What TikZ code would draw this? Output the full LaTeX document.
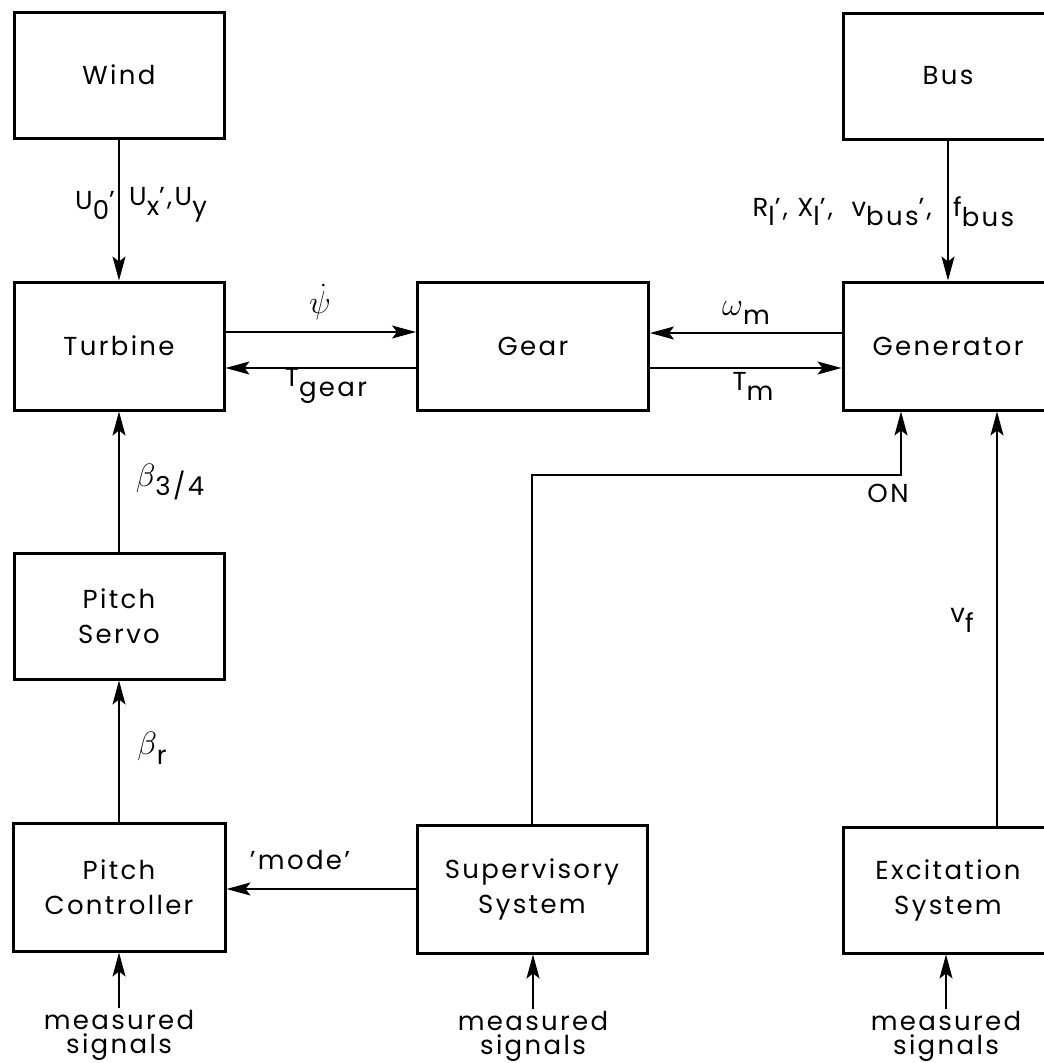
\documentclass[tikz,border=0pt]{standalone}
\usepackage{graphicx}
\usepackage{fontspec}
\setmainfont{Poppins}[LetterSpace=9]
\usetikzlibrary{arrows.meta}
\newcommand{\lowidx}[1]{\raisebox{-0.38em}{#1}}
\newcommand{\grk}[1]{\scalebox{1.3}{$#1$}}

\begin{document}
\begin{tikzpicture}[
  x=1pt, y=-1pt,
  every node/.style={font=\fontsize{26}{35}\selectfont, align=center},
  block/.style={draw, line width=3pt, minimum width=210pt, minimum height=126pt, inner sep=0pt},
  lbl/.style={inner sep=0pt},
  meas/.style={font=\fontsize{26}{24}\selectfont, inner sep=2pt},
  sig/.style={line width=1.5pt, -{Stealth[length=24pt, width=13pt, inset=5pt]}}
]
\useasboundingbox (0,0) rectangle (1044,1063);

% ── blocks ──────────────────────────────────────────────────────────
\node[block] (wind) at (119,75) {Wind};
\node[block] (bus) at (948,76) {Bus};
\node[block, minimum height=128pt] (turbine) at (119,346) {Turbine};
\node[block, minimum width=231pt, minimum height=128pt] (gear) at (533,346) {Gear};
\node[block, minimum height=128pt] (gen) at (948,346) {Generator};
\node[block] (servo) at (119,616) {Pitch\\Servo};
\node[block, minimum width=212pt, minimum height=128pt] (pctrl) at (119,887) {Pitch\\Controller};
\node[block, minimum width=230pt, minimum height=128pt] (super) at (532,889) {Supervisory\\System};
\node[block] (excite) at (948,890) {Excitation\\System};

% ── inputs from wind and bus ────────────────────────────────────────
\draw[sig] (wind.south) -- (turbine.north);
\node[lbl, anchor=east] (uo) at (115,205) {U\lowidx{0}'};
\node[lbl, anchor=west] (uxy) at (129,205) {U\lowidx{x}',U\lowidx{y}};
\draw[sig] (bus.south) -- (gen.north);
\node[lbl, anchor=east] (rxv) at (932,212) {R\lowidx{l}', X\lowidx{l}',\ \ v\lowidx{bus}',};
\node[lbl, anchor=west] (fbus) at (953,212) {f\lowidx{bus}};

% ── drive train ─────────────────────────────────────────────────────
\draw[sig] ([yshift=14pt]turbine.east) -- ([yshift=14pt]gear.west);
\draw[sig] ([yshift=-22pt]gear.west) -- ([yshift=-22pt]turbine.east);
\draw[sig] ([yshift=13pt]gen.west) -- ([yshift=13pt]gear.east);
\draw[sig] ([yshift=-22pt]gear.east) -- ([yshift=-22pt]gen.west);
\node[lbl] (psi) at (320,302) {\grk{\dot{\psi}}};
\node[lbl] (tgear) at (326,386) {T\lowidx{gear}};
\node[lbl] (wm) at (746,313) {\grk{\omega}\lowidx{m}};
\node[lbl] (tm) at (753,386) {T\lowidx{m}};

% ── pitch chain ─────────────────────────────────────────────────────
\draw[sig] (servo.north) -- (turbine.south);
\node[lbl] (b34) at (170,482) {\grk{\beta}\lowidx{3/4}};
\draw[sig] (pctrl.north) -- (servo.south);
\node[lbl] (br) at (152,748) {\grk{\beta}\lowidx{r}};

% ── supervisory and excitation ──────────────────────────────────────
\draw[sig] (super.west) -- (super.west -| pctrl.east);
\node[lbl] (mode) at (300,860) {'mode'};
\coordinate (onbend) at (901,475);
\draw[sig] (super.north) |- (onbend) -- (onbend |- gen.south);
\node[lbl] (on) at (888,493) {ON};
\coordinate (vfcol) at (997,0);
\draw[sig] (excite.north -| vfcol) -- (gen.south -| vfcol);
\node[lbl] (vf) at (962,620) {v\lowidx{f}};

% ── measured signals ────────────────────────────────────────────────
\node[meas] (m1) at (119,1035) {measured\\signals};
\node[meas] (m2) at (533,1036) {measured\\signals};
\node[meas] (m3) at (946,1036) {measured\\signals};
\draw[sig] (m1.north) -- (pctrl.south);
\draw[sig] (m2.north) -- (m2.north |- super.south);
\draw[sig] (m3.north) -- (m3.north |- excite.south);

\end{tikzpicture}
\end{document}
